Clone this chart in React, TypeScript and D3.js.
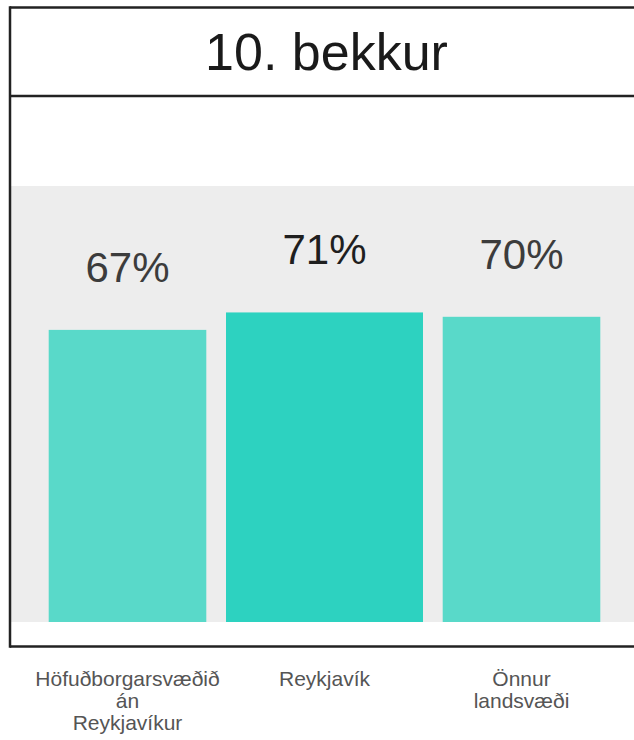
import React from "react";
import * as d3 from "d3";

const title = "10. bekkur";
const categories = ["Höfuðborgarsvæðið án Reykjavíkur", "Reykjavík", "Önnur landsvæði"];
const categoryLines = [["Höfuðborgarsvæðið", "án", "Reykjavíkur"], ["Reykjavík"], ["Önnur", "landsvæði"]];
const values = [67, 71, 70];
const highlighted = "Reykjavík";

const W = 634;
const H = 740;
const FONT = "'Liberation Sans', Arial, Helvetica, sans-serif";

export default function App() {
  const x = d3.scaleBand<string>().domain(categories).range([29, 620]).padding(0);
  const y = d3.scaleLinear().domain([0, 100]).range([622, 186]);
  const step = x.step();

  return (
    <svg width={W} height={H} style={{ position: "absolute", left: 0, top: 0, background: "#fff" }}>
      {/* plot background */}
      <rect x={11} y={y(100)} width={W - 11} height={y(0) - y(100)} fill="#ededed" />
      {/* frame */}
      <line x1={10} x2={W + 5} y1={7.5} y2={7.5} stroke="#222" strokeWidth={2.5} />
      <line x1={10} x2={W + 5} y1={96} y2={96} stroke="#222" strokeWidth={2.5} />
      <line x1={10} x2={W + 5} y1={646.5} y2={646.5} stroke="#222" strokeWidth={2.5} />
      <line x1={10} x2={10} y1={6.3} y2={647.7} stroke="#222" strokeWidth={2.5} />
      <text x={326.5} y={70} textAnchor="middle" fontFamily={FONT} fontSize={52} fill="#1a1a1a">
        {title}
      </text>
      {categories.map((c, i) => {
        const isHi = c === highlighted;
        const bw = isHi ? step : step * 0.8;
        const cx = (x(c) as number) + step / 2;
        const v = values[i];
        return (
          <g key={c}>
            <rect
              x={cx - bw / 2}
              y={y(v)}
              width={bw}
              height={y(0) - y(v)}
              fill={isHi ? "#2dd2c0" : "#59d9c9"}
            />
            <text
              x={cx}
              y={y(v) - 48}
              textAnchor="middle"
              fontFamily={FONT}
              fontSize={42}
              fill={isHi ? "#1f1f1f" : "#3c3c3c"}
            >
              {v}%
            </text>
            <text textAnchor="middle" fontFamily={FONT} fontSize={21} fill="#555">
              {categoryLines[i].map((ln, j) => (
                <tspan key={j} x={cx} y={686 + j * 22}>
                  {ln}
                </tspan>
              ))}
            </text>
          </g>
        );
      })}
    </svg>
  );
}
